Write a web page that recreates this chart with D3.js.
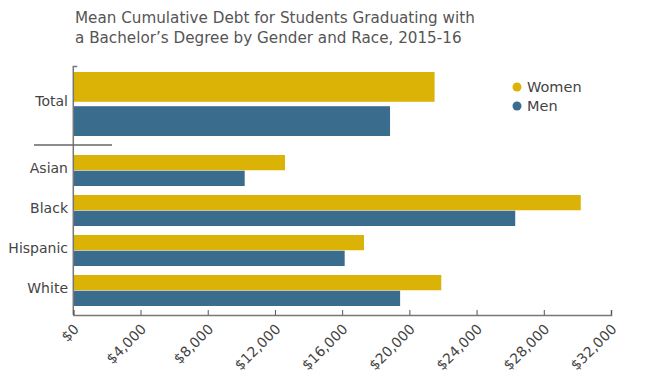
<!DOCTYPE html>
<html>
<head>
<meta charset="utf-8">
<script src="https://cdn.jsdelivr.net/npm/d3@7"></script>
<style>
  body { margin: 0; background: #fff; }
  svg { display: block; font-family: "DejaVu Sans", sans-serif; }
</style>
</head>
<body>
<svg id="chart" width="651" height="389"></svg>
<script>
const titleLines = ["Mean Cumulative Debt for Students Graduating with", "a Bachelor\u2019s Degree by Gender and Race, 2015-16"];
const totalCategory = ["Total"];
const raceCategories = ["Asian", "Black", "Hispanic", "White"];
const genders = ["Women", "Men"];
const totalWomen = [21500];
const totalMen = [18850];
const raceWomen = [12600, 30200, 17300, 21900];
const raceMen = [10200, 26300, 16150, 19450];
const tickValues = [0, 4000, 8000, 12000, 16000, 20000, 24000, 28000, 32000];
const colors = { Women: "#DAB306", Men: "#3A6C8E" };

const svg = d3.select("#chart");

// Title
svg.append("g").selectAll("text").data(titleLines).join("text")
  .attr("x", 75).attr("y", (d, i) => 23 + i * 19.5)
  .attr("font-size", 15.2).attr("fill", "#555")
  .text(d => d);

const x = d3.scaleLinear().domain([0, 32000]).range([73.3, 611]);

const yTotal = d3.scaleBand().domain(totalCategory).range([72, 136]).padding(0);
const yTotalInner = d3.scaleBand().domain(genders).range([0, yTotal.bandwidth()]).paddingInner(0.13).paddingOuter(0);
const yRace = d3.scaleBand().domain(raceCategories).range([155, 306]).paddingInner(0.225).paddingOuter(0);
const yRaceInner = d3.scaleBand().domain(genders).range([0, yRace.bandwidth()]).paddingInner(0.03).paddingOuter(0);

const rows = [];
totalCategory.forEach((c, i) => {
  rows.push({ cat: c, g: "Women", v: totalWomen[i], outer: yTotal, inner: yTotalInner });
  rows.push({ cat: c, g: "Men", v: totalMen[i], outer: yTotal, inner: yTotalInner });
});
raceCategories.forEach((c, i) => {
  rows.push({ cat: c, g: "Women", v: raceWomen[i], outer: yRace, inner: yRaceInner });
  rows.push({ cat: c, g: "Men", v: raceMen[i], outer: yRace, inner: yRaceInner });
});

svg.append("g").selectAll("rect").data(rows).join("rect")
  .attr("x", x(0))
  .attr("y", d => d.outer(d.cat) + d.inner(d.g))
  .attr("width", d => x(d.v) - x(0))
  .attr("height", d => d.inner.bandwidth())
  .attr("fill", d => colors[d.g]);

// Category labels
const labels = totalCategory.map(c => ({ c, y: yTotal(c) + yTotal.bandwidth() / 2 - 3 }))
  .concat(raceCategories.map(c => ({ c, y: yRace(c) + yRace.bandwidth() / 2 - 2 })));
svg.append("g").selectAll("text").data(labels).join("text")
  .attr("x", 68).attr("y", d => d.y).attr("dy", "0.35em")
  .attr("text-anchor", "end").attr("font-size", 14).attr("fill", "#444")
  .text(d => d.c);

// Vertical axis line
const axisColor = "#777";
svg.append("path")
  .attr("d", `M${x(0) + 4},66.5 H${x(0)} V315`)
  .attr("fill", "none").attr("stroke", axisColor).attr("stroke-width", 1.5);

// Separator
svg.append("line").attr("x1", 34).attr("x2", 112).attr("y1", 145).attr("y2", 145)
  .attr("stroke", "#666").attr("stroke-width", 1.3);

// X axis
const xAxis = d3.axisBottom(x).tickValues(tickValues)
  .tickSize(-5).tickSizeOuter(-5)
  .tickFormat(d => "$" + d3.format(",")(d));
const gx = svg.append("g").attr("transform", "translate(0,315)").call(xAxis);
gx.select(".domain").attr("stroke", axisColor).attr("stroke-width", 1.5);
gx.selectAll(".tick line").attr("stroke", "#555");
gx.selectAll(".tick text")
  .attr("font-family", "DejaVu Sans, sans-serif")
  .attr("font-size", 14).attr("fill", "#444")
  .attr("text-anchor", "end")
  .attr("dy", null).attr("y", 0)
  .attr("transform", "translate(6,15) rotate(-45)");

// Legend
const legend = svg.append("g").selectAll("g").data(genders).join("g")
  .attr("transform", (d, i) => `translate(517,${87 + i * 19})`);
legend.append("circle").attr("r", 4.5).attr("fill", d => colors[d]);
legend.append("text").attr("x", 10).attr("dy", "0.35em")
  .attr("font-size", 14.5).attr("fill", "#444").text(d => d);
</script>
</body>
</html>
